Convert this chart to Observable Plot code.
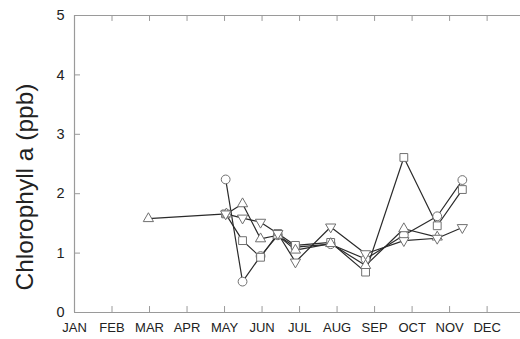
<!DOCTYPE html>
<html>
<head>
<meta charset="utf-8">
<script src="https://cdn.jsdelivr.net/npm/d3@7"></script>
<script src="https://cdn.jsdelivr.net/npm/@observablehq/plot@0.6"></script>
<style>
  html, body { margin: 0; padding: 0; background: #fff; }
  svg { display: block; }
</style>
</head>
<body>
<div id="chart"></div>
<script>
// Month labels (tick at month index 0 = JAN ... 11 = DEC)
const months = ["JAN","FEB","MAR","APR","MAY","JUN","JUL","AUG","SEP","OCT","NOV","DEC"];
const yTicks = [0, 1, 2, 3, 4, 5];

// Series: sampling time (month index, fractional) and chlorophyll a (ppb)
const circleX = [4.03, 4.48, 4.96, 5.42, 5.89, 6.83, 7.76, 8.78, 9.67, 10.34];
const circleY = [2.24, 0.52, 0.95, 1.30, 1.10, 1.15, 0.90, 1.30, 1.62, 2.23];

const squareX = [4.03, 4.48, 4.96, 5.42, 5.89, 6.83, 7.76, 8.78, 9.67, 10.34];
const squareY = [1.66, 1.21, 0.93, 1.33, 1.13, 1.18, 0.68, 2.61, 1.46, 2.07];

const triUpX = [1.97, 4.05, 4.48, 4.96, 5.42, 5.89, 6.83, 7.76, 8.78, 9.67];
const triUpY = [1.58, 1.66, 1.83, 1.24, 1.30, 1.05, 1.16, 0.79, 1.41, 1.27];

const triDownX = [4.03, 4.48, 4.96, 5.42, 5.89, 6.83, 7.76, 8.78, 9.67, 10.34];
const triDownY = [1.66, 1.59, 1.52, 1.33, 0.85, 1.44, 0.99, 1.21, 1.25, 1.43];

const sqrt3 = Math.sqrt(3);
const symbolTriangleDown = {
  draw(context, size) {
    const y = -Math.sqrt(size / (sqrt3 * 3));
    context.moveTo(0, -y * 2);
    context.lineTo(-sqrt3 * y, y);
    context.lineTo(sqrt3 * y, y);
    context.closePath();
  }
};

const zip = (xs, ys) => xs.map((x, i) => ({x, y: ys[i]}));
const series = [
  {data: zip(circleX, circleY), symbol: "circle", r: 4.4},
  {data: zip(squareX, squareY), symbol: "square", r: 4.4},
  {data: zip(triUpX, triUpY), symbol: "triangle", r: 3.8},
  {data: zip(triDownX, triDownY), symbol: symbolTriangleDown, r: 3.8}
];

const axisColor = "#9a9a9a";
const textColor = "#222";
const monthIdx = months.map((_, i) => i);

const marks = [
  // frame lines
  Plot.ruleY([0, 5], {x1: 0, x2: 11.9, stroke: axisColor, strokeWidth: 1.2}),
  Plot.ruleX([0], {y1: 0, y2: 5, stroke: axisColor, strokeWidth: 1.2}),
  // inward ticks bottom and top
  Plot.ruleX(monthIdx.slice(1), {y1: 0, y2: 0.1, stroke: axisColor}),
  Plot.ruleX(monthIdx.slice(1), {y1: 4.9, y2: 5, stroke: axisColor}),
  // inward ticks left
  Plot.ruleY(yTicks.slice(1, 5), {x1: 0, x2: 0.16, stroke: axisColor}),
  // axes labels
  Plot.axisX(monthIdx, {tickSize: 0, tickPadding: 10, tickFormat: i => months[i], fontSize: 13, label: null, color: textColor}),
  Plot.axisY(yTicks, {tickSize: 0, tickPadding: 10, tickFormat: d => String(d), fontSize: 14.5, label: null, color: textColor}),
  Plot.text([0], {frameAnchor: "left", dx: -49, dy: 23, rotate: -90, text: () => "Chlorophyll a (ppb)", fontSize: 24.5, fill: textColor, textAnchor: "middle", lineAnchor: "middle"})
];

for (const s of series) {
  marks.push(Plot.line(s.data, {x: "x", y: "y", stroke: "#2a2a2a", strokeWidth: 1.2}));
}
for (const s of series) {
  marks.push(Plot.dot(s.data, {x: "x", y: "y", symbol: s.symbol, r: s.r, stroke: "#707070", strokeWidth: 1, fill: "white"}));
}

const chart = Plot.plot({
  width: 520,
  height: 339,
  marginLeft: 74,
  marginRight: 0,
  marginTop: 15,
  marginBottom: 27,
  style: {fontFamily: "'Liberation Sans', Arial, sans-serif", color: textColor, background: "white", overflow: "visible"},
  x: {domain: [0, 11.89], axis: null},
  y: {domain: [0, 5], axis: null},
  marks
});
document.getElementById("chart").appendChild(chart);
</script>
</body>
</html>
